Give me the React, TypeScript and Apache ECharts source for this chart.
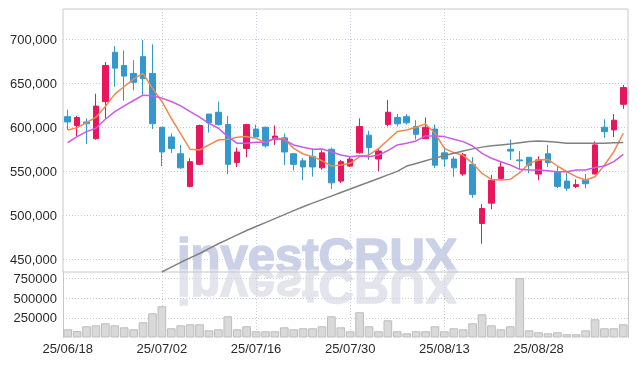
import React, { useEffect, useRef } from 'react';
import * as echarts from 'echarts';

const dates = [
  '25/06/18', '25/06/19', '25/06/20', '25/06/23', '25/06/24', '25/06/25', '25/06/26', '25/06/27', '25/06/30', '25/07/01',
  '25/07/02', '25/07/03', '25/07/04', '25/07/07', '25/07/08', '25/07/09', '25/07/10', '25/07/11', '25/07/14', '25/07/15',
  '25/07/16', '25/07/17', '25/07/18', '25/07/21', '25/07/22', '25/07/23', '25/07/24', '25/07/25', '25/07/28', '25/07/29',
  '25/07/30', '25/07/31', '25/08/01', '25/08/04', '25/08/05', '25/08/06', '25/08/07', '25/08/08', '25/08/11', '25/08/12',
  '25/08/13', '25/08/14', '25/08/18', '25/08/19', '25/08/20', '25/08/21', '25/08/22', '25/08/25', '25/08/26', '25/08/27',
  '25/08/28', '25/08/29', '25/09/01', '25/09/02', '25/09/03', '25/09/04', '25/09/05', '25/09/08', '25/09/09', '25/09/10',
];

// [open, close, low, high] in thousands of won
const ohlc = [
  [612, 606, 597, 620], [602, 611, 590, 613], [606, 604, 581, 610], [587, 624, 586, 638], [629, 670, 610, 674],
  [685, 667, 646, 692], [670, 658, 630, 687], [661, 651, 642, 676], [680, 655, 637, 699], [661, 604, 598, 694],
  [600, 572, 556, 600], [589, 576, 571, 593], [570, 554, 553, 580], [533, 561, 532, 565], [558, 602, 557, 603],
  [615, 605, 594, 615], [617, 603, 602, 629], [603, 558, 547, 613], [560, 572, 555, 577], [576, 603, 566, 604],
  [598, 589, 589, 603], [600, 579, 577, 601], [586, 590, 580, 602], [588, 572, 557, 593], [570, 558, 551, 571],
  [562, 555, 540, 565], [567, 555, 544, 576], [554, 571, 552, 574], [575, 537, 530, 577], [539, 561, 537, 563],
  [556, 564, 555, 567], [571, 601, 570, 610], [591, 577, 563, 596], [564, 573, 550, 576], [603, 617, 601, 631],
  [611, 604, 601, 615], [612, 605, 603, 615], [601, 592, 586, 608], [587, 600, 587, 611], [598, 557, 554, 603],
  [571, 564, 555, 578], [564, 554, 544, 567], [547, 569, 545, 571], [558, 524, 520, 566], [491, 508, 468, 513],
  [514, 540, 507, 546], [542, 555, 541, 561], [575, 573, 563, 586], [563, 562, 552, 573], [566, 557, 548, 566],
  [547, 563, 540, 567], [570, 560, 555, 580], [549, 533, 531, 555], [539, 531, 528, 548], [533, 535, 531, 541],
  [540, 536, 531, 547], [547, 580, 547, 584], [600, 595, 588, 609], [597, 608, 589, 615], [626, 645, 621, 648],
];

const ma5 = [
  597, 599.6, 605.3, 611.4, 623.5, 637.5, 646.2, 654.5, 661, 644,
  629.2, 610.2, 592.4, 575, 574.2, 580, 585.6, 586.4, 588.6, 589.4,
  587.5, 582.6, 587.5, 586.7, 576.1, 569.7, 566.7, 562.1, 556.1, 557.2,
  559.1, 566.7, 568.6, 575.8, 585.6, 595.1, 597, 600, 603.8, 593.2,
  576.1, 571.2, 568.2, 559.1, 547.7, 540.9, 540.2, 540.9, 548.5, 559.1,
  562.9, 563.6, 556.1, 549.6, 544, 540.2, 544, 557.2, 572.3, 593.2,
];

const ma10 = [
  582.6, 589.4, 595.1, 598.9, 609.1, 617.8, 624.2, 630.3, 636.4, 635.6,
  633, 629.2, 624.2, 617.8, 611.4, 604.5, 598.9, 589.4, 581.8, 581.8,
  583, 583, 587.5, 585.6, 580, 577.3, 575, 575.4, 572.3, 568.6,
  566.7, 567.8, 566.7, 568.6, 573.5, 580, 581.8, 584.5, 590.2, 590.2,
  589.4, 586.4, 583.7, 578.8, 570.5, 564.8, 561, 557.2, 552.3, 551.5,
  551.5, 550.8, 549.6, 549.6, 551.5, 551.5, 554.5, 556.1, 561, 569.3,
];

const maLong: (number | null)[] = [
  null, null, null, null, null, null, null, null, null, null,
  436, 441.5, 447, 452, 457, 462.5, 468, 473, 478, 483,
  487.5, 492, 496.5, 501, 505.5, 510, 514, 518, 522, 526,
  530, 534, 538, 542, 546, 550, 556, 559, 562, 565,
  568, 570.5, 573, 575.5, 577.5, 579, 580, 581, 582.5, 584,
  584.5, 584, 583, 582, 581.8, 581.8, 581.8, 582, 582.5, 582.6,
];

const volumes = [
  104000, 82000, 142000, 154000, 180000, 154000, 129000, 104000, 193000, 307000,
  396000, 117000, 154000, 167000, 167000, 91000, 104000, 269000, 104000, 142000,
  79000, 79000, 79000, 129000, 104000, 117000, 117000, 142000, 269000, 129000,
  79000, 320000, 142000, 79000, 218000, 79000, 53000, 79000, 79000, 142000,
  79000, 117000, 104000, 180000, 294000, 154000, 104000, 142000, 751000, 91000,
  66000, 53000, 66000, 41000, 41000, 91000, 231000, 117000, 117000, 167000,
];

const gridColor = '#c9cce0';
const borderColor = '#c8c8c8';
const labelFont = 'Liberation Sans';

export default function App() {
  const ref = useRef<HTMLDivElement>(null);
  useEffect(() => {
    const chart = echarts.init(ref.current!, null, { renderer: 'svg' });
    const splitLine = {
      show: true, showMinLine: false, showMaxLine: false,
      lineStyle: { color: gridColor, type: [1, 2], width: 1 },
    };
    const wmFont = 'bold 49px "Liberation Sans"';
    chart.setOption({
      animation: false,
      grid: [
        { left: 63, right: 9, top: 9, height: 263, show: true, borderColor, borderWidth: 1, z: 3 },
        { left: 63, right: 9, top: 272, height: 65.5 },
      ],
      xAxis: [
        {
          type: 'category', gridIndex: 0, data: dates, boundaryGap: true,
          axisLine: { show: false }, axisTick: { show: false }, axisLabel: { show: false },
          splitLine: { ...splitLine, interval: 9, alignWithLabel: true },
        },
        {
          type: 'category', gridIndex: 1, data: dates, boundaryGap: true,
          axisLine: { show: false }, axisTick: { show: false },
          axisLabel: { interval: 9, fontSize: 13, color: '#2a2a2a', margin: 4, fontFamily: labelFont },
          splitLine: { ...splitLine, interval: 9, alignWithLabel: true },
        },
      ],
      yAxis: [
        {
          type: 'value', gridIndex: 0, min: 436000, max: 734000, splitNumber: 6,
          axisLine: { show: false }, axisTick: { show: false },
          axisLabel: { showMinLabel: false, showMaxLabel: false, fontSize: 13, color: '#2a2a2a', margin: 6, fontFamily: labelFont },
          splitLine,
        },
        {
          type: 'value', gridIndex: 1, min: 0, max: 830000, interval: 250000,
          axisLine: { show: true, lineStyle: { color: borderColor } }, axisTick: { show: false },
          axisLabel: {
            showMinLabel: false, showMaxLabel: false, fontSize: 13, color: '#2a2a2a', margin: 6, fontFamily: labelFont,
            formatter: (v: number) => String(v),
          },
          splitLine,
        },
        {
          type: 'value', gridIndex: 1, position: 'right', min: 0, max: 830000,
          axisLine: { show: true, lineStyle: { color: borderColor } }, axisTick: { show: false },
          axisLabel: { show: false }, splitLine: { show: false },
        },
      ],
      graphic: [
        {
          type: 'text', x: 177, y: 255, z: -1, silent: true,
          style: {
            text: 'investCRUX', font: wmFont, fill: '#cbd2e8', stroke: '#cbd2e8', lineWidth: 1.6,
            verticalAlign: 'middle', align: 'left',
          },
        },
        {
          type: 'group', x: 177, y: 271, scaleY: -1, z: -1, silent: true,
          children: [
            {
              type: 'text', x: 0, y: -16, z: -1,
              style: {
                text: 'investCRUX', font: wmFont, fill: '#e4e4ec', stroke: '#e4e4ec', lineWidth: 1.6,
                verticalAlign: 'middle', align: 'left',
              },
            },
          ],
        },
      ],
      series: [
        {
          type: 'candlestick', xAxisIndex: 0, yAxisIndex: 0, barWidth: 6,
          data: ohlc.map((d) => d.map((v) => v * 1000)),
          itemStyle: { color: '#e8175d', color0: '#3399cc', borderColor: '#e8175d', borderColor0: '#3399cc', borderWidth: 1 },
        },
        {
          type: 'line', xAxisIndex: 0, yAxisIndex: 0, data: ma5.map((v) => v * 1000),
          symbol: 'none', lineStyle: { color: '#ef8a50', width: 1.5 },
        },
        {
          type: 'line', xAxisIndex: 0, yAxisIndex: 0, data: ma10.map((v) => v * 1000),
          symbol: 'none', lineStyle: { color: '#cc5ae6', width: 1.5 },
        },
        {
          type: 'line', xAxisIndex: 0, yAxisIndex: 0, data: maLong.map((v) => (v == null ? '-' : v * 1000)),
          symbol: 'none', lineStyle: { color: '#808080', width: 1.5 },
        },
        {
          type: 'bar', xAxisIndex: 1, yAxisIndex: 1, data: volumes, barCategoryGap: '8%',
          itemStyle: { color: '#d9d9d9', borderColor: '#bdbdbd', borderWidth: 1 },
        },
      ],
    });
    return () => chart.dispose();
  }, []);
  return <div ref={ref} style={{ position: 'fixed', left: 0, top: 0, width: 637, height: 366 }} />;
}
